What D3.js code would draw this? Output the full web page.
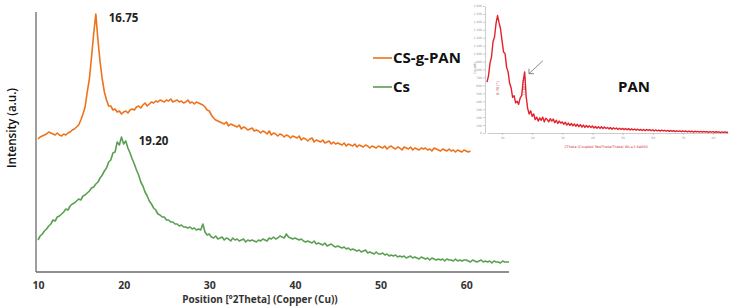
<!DOCTYPE html>
<html>
<head>
<meta charset="utf-8">
<script src="https://cdn.jsdelivr.net/npm/d3@7/dist/d3.min.js"></script>
<style>
  html, body { margin: 0; padding: 0; background: #fff; }
  svg { display: block; }
</style>
</head>
<body>
<svg id="chart" width="734" height="306"></svg>
<script>
// scan grid of the main patterns (deg 2theta)
var csgpanStart = 10, csgpanStep = 0.25;
var csStart = 10, csStep = 0.25;

// CS-g-PAN intensity, 10 .. 60.5 deg, one row per 5 deg
var csgpanValues = [
  133,135,136,137,138,140,139,138,137,139,137,136,138,137,139,140,142,143,145,147,
  152,158,165,180,193,215,238,258,232,210,193,180,172,166,166,162,163,160,161,158,
  160,161,159,162,163,162,165,166,164,167,169,166,168,170,169,171,170,172,171,170,
  172,171,173,170,171,172,170,171,169,170,172,169,170,168,170,169,168,167,165,162,
  161,157,154,152,151,150,149,148,150,146,148,147,146,145,147,143,145,144,142,143,
  144,141,142,141,139,141,140,138,141,137,139,138,136,138,137,135,137,136,134,136,
  135,134,136,132,134,133,131,133,134,130,132,131,130,132,129,130,131,128,130,128,
  129,128,127,129,126,128,127,126,128,125,127,126,125,127,126,124,126,125,124,126,
  125,124,126,123,125,126,124,123,125,124,122,125,124,123,125,122,124,123,122,124,
  123,124,122,123,121,124,123,122,121,123,122,121,123,121,122,120,122,121,120,122,
  121,120,121
];

// Cs intensity, 10 .. 65 deg
var csValues = [
  32,36,38,41,43,46,48,52,51,55,56,58,60,63,62,66,68,69,71,73,
  72,76,77,79,81,84,85,88,90,94,97,101,104,110,112,119,120,130,127,135,
  128,131,124,119,113,108,102,97,90,86,80,76,71,68,64,62,58,57,55,55,
  52,52,50,50,48,48,46,47,45,45,44,45,43,44,42,43,42,48,40,37,
  38,35,34,36,33,34,35,32,34,33,31,34,32,33,31,32,33,30,32,31,
  32,31,30,32,31,33,32,31,34,33,35,33,34,36,35,34,38,35,34,33,
  34,33,32,33,31,30,31,30,29,31,28,29,28,27,29,26,27,28,26,25,
  26,25,24,25,23,24,22,23,22,21,22,20,21,22,19,20,19,18,20,18,
  18,19,17,18,16,17,16,17,15,16,15,16,14,15,16,14,15,14,13,15,
  14,13,14,12,14,13,12,13,12,13,11,13,12,12,11,13,11,12,11,12,
  12,11,10,12,11,10,11,12,10,11,10,11,9,11,10,10,9,11,10,10,
  10
];

var xTicks = [10, 20, 30, 40, 50, 60];
var peakLabels = [
  { x: 16.75, y: 258, text: '16.75' },
  { x: 19.20, y: 135, text: '19.20' }
];
var seriesNames = ['CS-g-PAN', 'Cs'];

// PAN inset (counts), 5 .. 85 deg, step 0.5
var panStart = 5, panStep = 0.5;
var panValues = [
  640,720,880,960,1150,1210,1380,1480,1390,1310,
  1160,1020,1000,830,770,630,570,450,470,380,
  400,360,440,470,650,770,460,310,240,280,
  210,240,170,200,150,190,160,200,140,185,
  170,140,180,150,175,130,160,120,150,125,
  140,110,135,100,125,95,120,90,115,85,
  110,80,105,75,100,70,95,72,90,68,
  88,62,82,60,80,58,78,55,75,56,
  70,52,68,48,66,50,62,45,60,44,
  58,42,56,40,55,38,52,40,50,36,
  48,34,46,32,45,30,44,32,42,28,
  40,26,38,28,36,24,35,26,34,22,
  32,20,31,22,30,18,28,20,27,16,
  26,18,25,14,24,16,23,12,22,14,
  21,12,20,10,20,12,19,8,18,10,
  17,8,16,10,15,6,14,8,13,6,
  10
];
var panXTicks = [10, 20, 30, 40, 50, 60, 70, 80];
var panYTicks = d3.range(0, 1700, 100);
var panPeaks = [
  { x: 8.7, text: '8.70 [°]' },
  { x: 17.6, text: '17.60 [°]' }
];

var colors = { 'CS-g-PAN': '#ee7219', 'Cs': '#5b9f52' };

var svg = d3.select('#chart');

function toPoints(start, step, values) {
  return values.map(function(v, i) { return [start + i * step, v]; });
}

var csgpan = toPoints(csgpanStart, csgpanStep, csgpanValues);
var cs = toPoints(csStart, csStep, csValues);

// main plot scales
var x = d3.scaleLinear().domain([10, 65]).range([38, 509]);
var y = d3.scaleLinear().domain([0, 260]).range([272, 12]);

var line = d3.line()
  .x(function(d) { return x(d[0]); })
  .y(function(d) { return y(d[1]); });

var plot = svg.append('g').attr('class', 'main-plot');

plot.append('path')
  .datum(cs)
  .attr('fill', 'none')
  .attr('stroke', colors['Cs'])
  .attr('stroke-width', 1.6)
  .attr('stroke-linejoin', 'round')
  .attr('d', line);

plot.append('path')
  .datum(csgpan)
  .attr('fill', 'none')
  .attr('stroke', colors['CS-g-PAN'])
  .attr('stroke-width', 1.6)
  .attr('stroke-linejoin', 'round')
  .attr('d', line);

// axes
var xAxis = plot.append('g')
  .attr('transform', 'translate(0,' + y(0) + ')')
  .call(d3.axisBottom(x).tickValues(xTicks).tickSize(0).tickPadding(10));

xAxis.select('.domain').remove();
xAxis.selectAll('text')
  .attr('fill', '#333')
  .style('font-family', 'Open Sans')
  .style('font-weight', 'bold')
  .style('font-size', '10.5px');

plot.append('line')
  .attr('x1', x(10) - 2).attr('x2', x(65))
  .attr('y1', y(0)).attr('y2', y(0))
  .attr('stroke', '#6a6a6a').attr('stroke-width', 1.3);

plot.append('line')
  .attr('x1', x(10) - 2).attr('x2', x(10) - 2)
  .attr('y1', y(0)).attr('y2', y(260))
  .attr('stroke', '#6a6a6a').attr('stroke-width', 1.3);

plot.append('text')
  .attr('x', 260)
  .attr('y', 303)
  .attr('text-anchor', 'middle')
  .attr('fill', '#333')
  .style('font-family', 'Open Sans')
  .style('font-weight', 'bold')
  .style('font-size', '10px')
  .text('Position [º2Theta] (Copper (Cu))');

plot.append('text')
  .attr('transform', 'translate(16,128) rotate(-90)')
  .attr('text-anchor', 'middle')
  .attr('fill', '#111')
  .attr('textLength', 80)
  .attr('lengthAdjust', 'spacingAndGlyphs')
  .style('font-family', 'Open Sans')
  .style('font-weight', 600)
  .style('font-size', '13px')
  .text('Intensity (a.u.)');

// peak positions, the Cs label sits further off its broad peak
var labelDx = [13, 22];
plot.selectAll('.peak-label')
  .data(peakLabels)
  .enter()
  .append('text')
  .attr('class', 'peak-label')
  .attr('x', function(d, i) { return x(d.x) + labelDx[i]; })
  .attr('y', function(d) { return y(d.y) + 8; })
  .attr('fill', '#222')
  .style('font-family', 'Open Sans')
  .style('font-weight', 'bold')
  .style('font-size', '11.5px')
  .text(function(d) { return d.text; });

// legend
var legend = svg.append('g').attr('class', 'legend')
  .selectAll('g')
  .data(seriesNames)
  .enter()
  .append('g')
  .attr('transform', function(d, i) { return 'translate(373,' + (58 + i * 29) + ')'; });

legend.append('line')
  .attr('x1', 0).attr('x2', 19)
  .attr('stroke', function(d) { return colors[d]; })
  .attr('stroke-width', 1.6);

legend.append('text')
  .attr('x', 20)
  .attr('y', 5)
  .attr('fill', '#111')
  .style('font-family', 'Open Sans')
  .style('font-weight', 'bold')
  .style('font-size', '15px')
  .text(function(d) { return d; });

// PAN inset
var pan = toPoints(panStart, panStep, panValues);
var px = d3.scaleLinear().domain([5, 85]).range([487, 728]);
var py = d3.scaleLinear().domain([0, 1600]).range([133, 6]);

var inset = svg.append('g').attr('class', 'inset');

var insetX = inset.append('g')
  .attr('transform', 'translate(0,' + py(0) + ')')
  .call(d3.axisBottom(px).tickValues(panXTicks).tickSize(2).tickPadding(2).tickSizeOuter(0));

var insetY = inset.append('g')
  .attr('transform', 'translate(' + (px(5) - 2) + ',0)')
  .call(d3.axisLeft(py).tickValues(panYTicks).tickSize(2).tickPadding(1).tickSizeOuter(0));

[insetX, insetY].forEach(function(g) {
  g.selectAll('path, line').attr('stroke', '#aaa').attr('stroke-width', 0.6);
  g.selectAll('text').attr('fill', '#999').style('font-size', '3px').style('font-family', 'DejaVu Sans');
});

inset.append('text')
  .attr('x', 606)
  .attr('y', 148)
  .attr('text-anchor', 'middle')
  .attr('fill', '#d23a3a')
  .style('font-family', 'DejaVu Sans')
  .style('font-size', '3.5px')
  .text('2Theta (Coupled TwoTheta/Theta) WL=1.54060');

inset.append('text')
  .attr('transform', 'translate(476,68) rotate(-90)')
  .attr('text-anchor', 'middle')
  .attr('fill', '#999')
  .style('font-family', 'DejaVu Sans')
  .style('font-size', '3.5px')
  .text('Counts');

inset.append('path')
  .datum(pan)
  .attr('fill', 'none')
  .attr('stroke', '#e3212b')
  .attr('stroke-width', 1.4)
  .attr('stroke-linejoin', 'round')
  .attr('d', d3.line()
    .x(function(d) { return px(d[0]); })
    .y(function(d) { return py(d[1]); }));

inset.selectAll('.pan-peak')
  .data(panPeaks)
  .enter()
  .append('text')
  .attr('class', 'pan-peak')
  .attr('transform', function(d) { return 'translate(' + (px(d.x) + 0.5) + ',88) rotate(-90)'; })
  .attr('text-anchor', 'middle')
  .attr('fill', '#c0302c')
  .style('font-family', 'DejaVu Sans')
  .style('font-size', '3.5px')
  .text(function(d) { return d.text; });

// arrow pointing at the second PAN peak
var arrowTip = [px(17.6) + 4, py(760) + 1];
inset.append('path')
  .attr('fill', 'none')
  .attr('stroke', '#555')
  .attr('stroke-width', 0.7)
  .attr('d', 'M' + (arrowTip[0] + 14) + ',' + (arrowTip[1] - 13) + 'L' + arrowTip[0] + ',' + arrowTip[1] +
    'M' + arrowTip[0] + ',' + (arrowTip[1] - 5) + 'L' + arrowTip[0] + ',' + arrowTip[1] + 'L' + (arrowTip[0] + 5) + ',' + arrowTip[1]);

inset.append('text')
  .attr('x', 634)
  .attr('y', 92)
  .attr('text-anchor', 'middle')
  .attr('fill', '#111')
  .style('font-family', 'Open Sans')
  .style('font-weight', 'bold')
  .style('font-size', '15px')
  .text('PAN');
</script>
</body>
</html>
